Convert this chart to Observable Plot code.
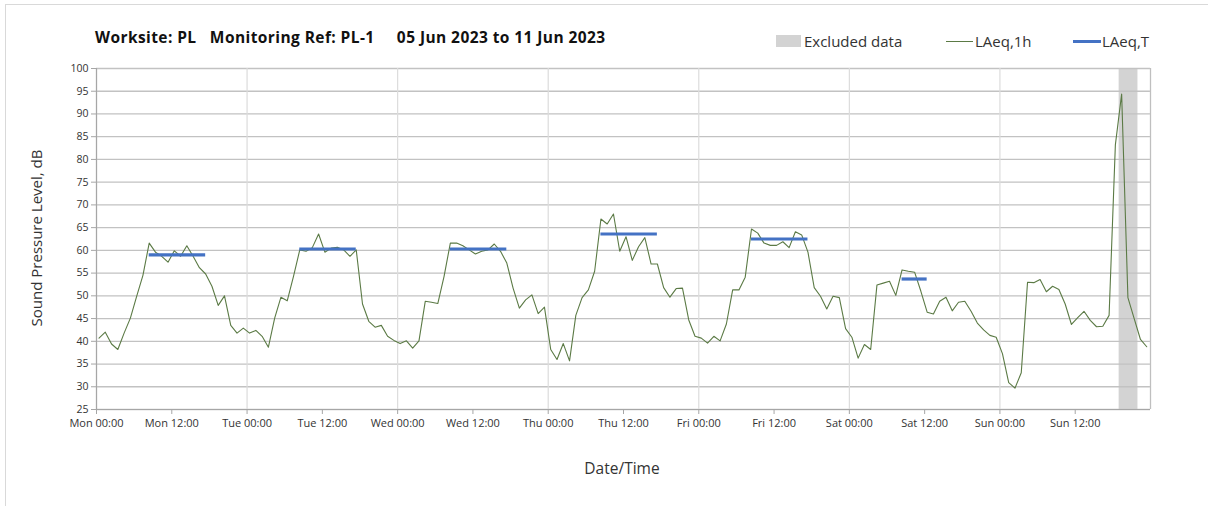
<!DOCTYPE html>
<html>
<head>
<meta charset="utf-8">
<script src="https://cdn.jsdelivr.net/npm/d3@7"></script>
<script src="https://cdn.jsdelivr.net/npm/@observablehq/plot@0.6"></script>
<style>
  html, body { margin: 0; padding: 0; background: #fff; }
  #wrap { position: relative; width: 1208px; height: 506px; overflow: hidden; font-family: "Open Sans", sans-serif; color: #222; }
  #border { position: absolute; left: 5px; top: 4px; right: -10px; bottom: -10px; border-left: 1px solid #d9d9d9; border-top: 1px solid #d9d9d9; }
  .t { position: absolute; white-space: pre; }
  #title { left: 95px; top: 26px; font-size: 15.5px; font-weight: 700; color: #111; letter-spacing: 0.42px; }
  .leg { font-size: 15px; color: #333; top: 31px; }
  #ylab { font-size: 15px; color: #333; left: 36px; top: 238px; transform: translate(-50%, -50%) rotate(-90deg); }
  #xlab { font-size: 15.5px; color: #333; left: 622px; top: 468px; transform: translate(-50%, -50%); }
  #plot { position: absolute; left: 0; top: 0; }
</style>
</head>
<body>
<div id="wrap">
  <div id="border"></div>
  <div id="plot"></div>
  <div class="t" id="title">Worksite: PL   Monitoring Ref: PL-1     05 Jun 2023 to 11 Jun 2023</div>
  <div class="t" style="left:776px;top:35px;width:25px;height:12px;background:#d3d3d3;"></div>
  <div class="t leg" style="left:804px;">Excluded data</div>
  <div class="t" style="left:946px;top:41px;width:27px;height:1px;background:#5b7a45;"></div>
  <div class="t leg" style="left:975px;">LAeq,1h</div>
  <div class="t" style="left:1073px;top:40px;width:28px;height:3px;background:#4472c4;"></div>
  <div class="t leg" style="left:1102px;">LAeq,T</div>
  <div class="t" id="ylab">Sound Pressure Level, dB</div>
  <div class="t" id="xlab">Date/Time</div>
</div>
<script>
// ---- Data ----
const startTime = "2023-06-05T00:00:00Z"; // Mon 05 Jun 2023
const endTime = "2023-06-12T00:00:00Z";

// LAeq,1h hourly values (dB), one array per day, hours 00..23
const monLAeq1h = [40.7, 42.0, 39.4, 38.2, 41.8, 45.1, 49.9, 54.5, 61.6, 59.6, 58.7, 57.4, 59.9, 58.7, 61.0, 58.7, 56.2, 54.8, 52.1, 47.9, 50.0, 43.5, 41.8, 42.9];
const tueLAeq1h = [41.8, 42.4, 41.1, 38.7, 45.1, 49.7, 48.9, 54.3, 60.1, 59.8, 60.6, 63.6, 59.6, 60.5, 60.7, 60.1, 58.7, 60.1, 48.2, 44.4, 43.1, 43.5, 41.1, 40.2];
const wedLAeq1h = [39.5, 40.1, 38.5, 40.1, 48.8, 48.6, 48.3, 54.3, 61.6, 61.6, 61.0, 60.1, 59.2, 59.8, 60.1, 61.4, 59.8, 57.2, 51.7, 47.3, 49.1, 50.2, 46.1, 47.5];
const thuLAeq1h = [38.2, 36.0, 39.5, 35.7, 45.7, 49.6, 51.3, 55.4, 66.9, 65.8, 68.0, 59.8, 63.0, 57.8, 60.8, 62.8, 57.0, 57.0, 51.8, 49.7, 51.6, 51.7, 44.7, 41.1];
const friLAeq1h = [40.7, 39.6, 41.1, 40.1, 43.8, 51.3, 51.3, 54.1, 64.7, 63.8, 61.6, 61.1, 61.1, 61.9, 60.6, 64.1, 63.4, 59.6, 51.8, 49.9, 47.1, 49.9, 49.6, 42.8];
const satLAeq1h = [40.9, 36.3, 39.3, 38.2, 52.4, 52.8, 53.2, 50.1, 55.7, 55.4, 55.2, 51.0, 46.4, 46.0, 48.8, 49.7, 46.7, 48.6, 48.8, 46.6, 44.0, 42.5, 41.3, 40.9];
const sunLAeq1h = [37.3, 30.9, 29.7, 33.1, 53.0, 52.9, 53.6, 50.9, 52.1, 51.4, 48.2, 43.7, 45.2, 46.6, 44.6, 43.2, 43.3, 45.7, 83.2, 94.4, 49.6, 45.0, 40.4, 38.8];

// LAeq,T daytime periods
const periodStart = ["2023-06-05T08:00:00Z", "2023-06-06T08:00:00Z", "2023-06-07T08:00:00Z", "2023-06-08T08:00:00Z", "2023-06-09T08:00:00Z", "2023-06-10T08:00:00Z"];
const periodEnd   = ["2023-06-05T17:00:00Z", "2023-06-06T17:00:00Z", "2023-06-07T17:00:00Z", "2023-06-08T17:00:00Z", "2023-06-09T17:00:00Z", "2023-06-10T12:00:00Z"];
const periodLAeqT = [59.0, 60.3, 60.3, 63.6, 62.5, 53.7];

// Excluded data period
const excludedStart = ["2023-06-11T19:00:00Z"];
const excludedEnd = ["2023-06-11T22:00:00Z"];

// Axis ticks
const yTicks = [25, 30, 35, 40, 45, 50, 55, 60, 65, 70, 75, 80, 85, 90, 95, 100];
const xTickStrings = ["2023-06-05T00:00:00Z","2023-06-05T12:00:00Z","2023-06-06T00:00:00Z","2023-06-06T12:00:00Z","2023-06-07T00:00:00Z","2023-06-07T12:00:00Z","2023-06-08T00:00:00Z","2023-06-08T12:00:00Z","2023-06-09T00:00:00Z","2023-06-09T12:00:00Z","2023-06-10T00:00:00Z","2023-06-10T12:00:00Z","2023-06-11T00:00:00Z","2023-06-11T12:00:00Z"];
const dayGridStrings = ["2023-06-05T00:00:00Z","2023-06-06T00:00:00Z","2023-06-07T00:00:00Z","2023-06-08T00:00:00Z","2023-06-09T00:00:00Z","2023-06-10T00:00:00Z","2023-06-11T00:00:00Z","2023-06-12T00:00:00Z"];

// ---- Build tables ----
const sampleOffsetMin = 24; // plotted position of each hourly sample within its hour
const HOUR = 3600e3;
const t0 = new Date(startTime).getTime();
const allValues = [...monLAeq1h, ...tueLAeq1h, ...wedLAeq1h, ...thuLAeq1h, ...friLAeq1h, ...satLAeq1h, ...sunLAeq1h];
const hourly = allValues.map((v, i) => ({t: new Date(t0 + i * HOUR + sampleOffsetMin * 60e3), v}));
const periods = periodLAeqT.map((v, i) => ({
  x1: new Date(new Date(periodStart[i]).getTime() + sampleOffsetMin * 60e3),
  x2: new Date(new Date(periodEnd[i]).getTime() + sampleOffsetMin * 60e3),
  v
}));
const excluded = excludedStart.map((s, i) => ({x1: new Date(s), x2: new Date(excludedEnd[i])}));
const xTicks = xTickStrings.map(s => new Date(s));
const dayGrid = dayGridStrings.map(s => new Date(s));
const fmt = d3.utcFormat("%a %H:%M");

const chart = Plot.plot({
  width: 1208,
  height: 506,
  marginLeft: 96,
  marginRight: 58,
  marginTop: 68,
  marginBottom: 97,
  style: {fontFamily: "'Open Sans', sans-serif", fontSize: "11px", color: "#333", background: "transparent"},
  x: {type: "utc", domain: [new Date(startTime), new Date(endTime)]},
  y: {domain: [25, 100]},
  marks: [
    Plot.rect(excluded, {x1: "x1", x2: "x2", y1: 25, y2: 100, fill: "#d3d3d3"}),
    Plot.gridY(yTicks, {stroke: "#c2c2c2", strokeOpacity: 1, strokeWidth: 1.3}),
    Plot.gridX(dayGrid, {stroke: "#dcdcdc", strokeOpacity: 1, strokeWidth: 1.2}),
    Plot.ruleX([new Date(startTime)], {stroke: "#a6a6a6", strokeWidth: 1.2}),
    Plot.ruleX([new Date(endTime)], {stroke: "#bfbfbf", strokeWidth: 1.2}),
    Plot.ruleY([25], {stroke: "#a6a6a6", strokeWidth: 1.2}),
    Plot.axisY({ticks: yTicks, tickSize: 5, tickPadding: 3, label: null, stroke: "#a6a6a6", fill: "#333", fontSize: 10.5}),
    Plot.axisX({ticks: xTicks, tickFormat: fmt, tickSize: 5, tickPadding: 5, label: null, stroke: "#a6a6a6", fill: "#333", fontSize: 11}),
    Plot.lineY(hourly, {x: "t", y: "v", stroke: "#5b7a45", strokeWidth: 1.1}),
    Plot.ruleY(periods, {x1: "x1", x2: "x2", y: "v", stroke: "#4472c4", strokeWidth: 3.2})
  ]
});
document.getElementById("plot").appendChild(chart);
</script>
</body>
</html>
